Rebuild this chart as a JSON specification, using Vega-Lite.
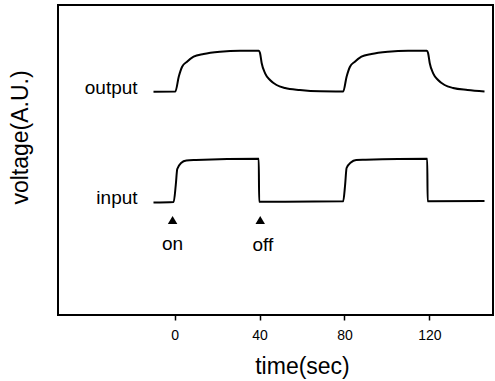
{
  "$schema": "https://vega.github.io/schema/vega-lite/v6.json",
  "width": 435,
  "height": 310,
  "autosize": {"type": "none"},
  "padding": {"left": 58, "top": 5, "right": 2, "bottom": 66},
  "background": "white",
  "config": {
    "view": {"stroke": "black", "strokeWidth": 2},
    "font": "Liberation Sans"
  },
  "datasets": {
    "traces": [
      {"series": "output", "t": -10, "v": 223.3},
      {"series": "output", "t": 0.3, "v": 223.5},
      {"series": "output", "t": 1.9, "v": 238.3},
      {"series": "output", "t": 3.5, "v": 248.3},
      {"series": "output", "t": 5.8, "v": 253.3},
      {"series": "output", "t": 8.9, "v": 258.3},
      {"series": "output", "t": 13.6, "v": 261},
      {"series": "output", "t": 21.4, "v": 263.3},
      {"series": "output", "t": 30.8, "v": 264.3},
      {"series": "output", "t": 39.6, "v": 264.3},
      {"series": "output", "t": 40.2, "v": 262},
      {"series": "output", "t": 41, "v": 251.7},
      {"series": "output", "t": 42.6, "v": 241.7},
      {"series": "output", "t": 44.9, "v": 235},
      {"series": "output", "t": 48, "v": 230},
      {"series": "output", "t": 52, "v": 227},
      {"series": "output", "t": 59, "v": 225},
      {"series": "output", "t": 68.5, "v": 223.7},
      {"series": "output", "t": 79.4, "v": 223.5},
      {"series": "output", "t": 81, "v": 238.3},
      {"series": "output", "t": 82.6, "v": 248.3},
      {"series": "output", "t": 84.9, "v": 253.3},
      {"series": "output", "t": 88, "v": 258.3},
      {"series": "output", "t": 92.7, "v": 261},
      {"series": "output", "t": 100.5, "v": 263.3},
      {"series": "output", "t": 110, "v": 264.3},
      {"series": "output", "t": 118.8, "v": 264.3},
      {"series": "output", "t": 119.4, "v": 262},
      {"series": "output", "t": 120.2, "v": 251.7},
      {"series": "output", "t": 121.8, "v": 241.7},
      {"series": "output", "t": 124.1, "v": 235},
      {"series": "output", "t": 127.2, "v": 230},
      {"series": "output", "t": 131.2, "v": 227},
      {"series": "output", "t": 138, "v": 225},
      {"series": "output", "t": 146, "v": 223.5},
      {"series": "input", "t": -10, "v": 112.5},
      {"series": "input", "t": -0.5, "v": 113},
      {"series": "input", "t": 0.5, "v": 130},
      {"series": "input", "t": 1.2, "v": 146},
      {"series": "input", "t": 3, "v": 152},
      {"series": "input", "t": 5.5, "v": 154.5},
      {"series": "input", "t": 10, "v": 155},
      {"series": "input", "t": 39.6, "v": 156.3},
      {"series": "input", "t": 39.8, "v": 113.3},
      {"series": "input", "t": 79.4, "v": 113.7},
      {"series": "input", "t": 80.3, "v": 130},
      {"series": "input", "t": 81, "v": 147},
      {"series": "input", "t": 83, "v": 152.5},
      {"series": "input", "t": 85.5, "v": 155},
      {"series": "input", "t": 90, "v": 155.3},
      {"series": "input", "t": 119, "v": 156.3},
      {"series": "input", "t": 119.2, "v": 113.7},
      {"series": "input", "t": 146, "v": 114}
    ],
    "markers": [
      {"t": -1, "v": 95},
      {"t": 40.3, "v": 95}
    ],
    "traceLabels": [
      {"text": "output", "t": -17.5, "v": 220.7},
      {"text": "input", "t": -17.5, "v": 111}
    ],
    "eventLabels": [
      {"text": "on", "t": -1, "v": 65},
      {"text": "off", "t": 41.5, "v": 64.3}
    ]
  },
  "layer": [
    {
      "data": {"name": "traces"},
      "mark": {"type": "line", "color": "black", "strokeWidth": 2, "interpolate": "monotone"},
      "encoding": {
        "x": {
          "field": "t", "type": "quantitative",
          "scale": {"domain": [-55, 150], "nice": false, "zero": false},
          "axis": {
            "values": [0, 40, 80, 120],
            "grid": false,
            "domain": false,
            "tickSize": 5,
            "tickWidth": 1.5,
            "tickColor": "black",
            "labelFontSize": 14,
            "labelColor": "black",
            "labelPadding": 8,
            "title": "time(sec)",
            "titleFontSize": 23,
            "titleFontWeight": "normal",
            "titleColor": "black",
            "titleX": 244,
            "titleY": 58,
            "titleAlign": "center",
            "titleBaseline": "alphabetic"
          }
        },
        "y": {
          "field": "v", "type": "quantitative",
          "scale": {"domain": [0, 310], "nice": false, "zero": false},
          "axis": {
            "ticks": false,
            "labels": false,
            "domain": false,
            "grid": false,
            "title": "voltage(A.U.)",
            "titleFontSize": 23,
            "titleFontWeight": "normal",
            "titleColor": "black",
            "titleAngle": -90,
            "titleX": -31,
            "titleY": 132,
            "titleAlign": "center",
            "titleBaseline": "alphabetic"
          }
        },
        "detail": {"field": "series"}
      }
    },
    {
      "data": {"name": "markers"},
      "mark": {"type": "point", "shape": "triangle-up", "filled": true, "color": "black", "size": 90, "opacity": 1},
      "encoding": {
        "x": {"field": "t", "type": "quantitative"},
        "y": {"field": "v", "type": "quantitative"}
      }
    },
    {
      "data": {"name": "traceLabels"},
      "mark": {"type": "text", "align": "right", "baseline": "alphabetic", "fontSize": 19, "color": "black"},
      "encoding": {
        "x": {"field": "t", "type": "quantitative"},
        "y": {"field": "v", "type": "quantitative"},
        "text": {"field": "text"}
      }
    },
    {
      "data": {"name": "eventLabels"},
      "mark": {"type": "text", "align": "center", "baseline": "alphabetic", "fontSize": 19, "color": "black"},
      "encoding": {
        "x": {"field": "t", "type": "quantitative"},
        "y": {"field": "v", "type": "quantitative"},
        "text": {"field": "text"}
      }
    }
  ]
}
